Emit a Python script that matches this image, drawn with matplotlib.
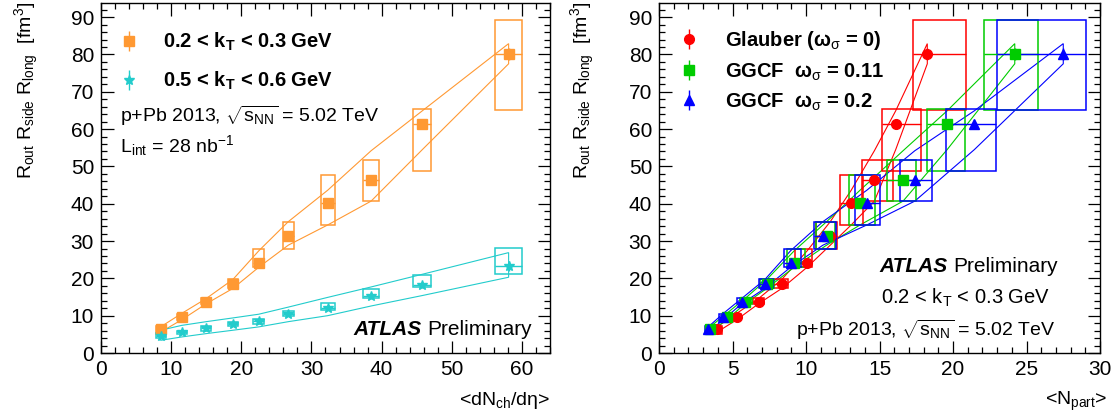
import numpy as np
import matplotlib
matplotlib.use('Agg')
import matplotlib.pyplot as plt
from matplotlib.patches import Rectangle, Polygon

plt.rcParams['font.family'] = ['Liberation Sans', 'DejaVu Sans']
plt.rcParams['mathtext.fontset'] = 'custom'
plt.rcParams['mathtext.rm'] = 'Liberation Sans'
plt.rcParams['mathtext.it'] = 'Liberation Sans:italic'
plt.rcParams['mathtext.bf'] = 'Liberation Sans:bold'

# ---- left panel data: volume vs <dNch/deta>
dndeta = [8.5, 11.5, 15.0, 18.8, 22.5, 26.7, 32.3, 38.5, 45.8, 58.1]
dndeta_sys = [0.7, 0.7, 0.7, 0.75, 0.8, 0.8, 1.0, 1.15, 1.3, 1.9]

vol_kt1 = [6.3, 9.6, 13.8, 18.5, 24.2, 31.3, 40.2, 46.3, 61.3, 80.1]
vol_kt1_stat = [0.3, 0.3, 0.3, 0.4, 0.5, 0.6, 0.8, 1.0, 1.2, 1.5]
vol_kt1_sysdn = [5.0, 8.8, 13.0, 17.3, 23.0, 27.8, 34.3, 40.7, 48.7, 65.1]
vol_kt1_sysup = [7.3, 10.5, 14.8, 19.9, 27.8, 35.2, 47.7, 51.6, 65.3, 89.2]
band_kt1_up = [7.0, 10.6, 14.6, 19.7, 27.4, 35.2, 43.6, 54.2, 64.9, 82.9]
band_kt1_dn = [5.6, 8.9, 13.2, 17.3, 23.0, 28.9, 34.3, 40.7, 54.5, 77.5]

vol_kt2 = [4.6, 5.5, 6.6, 7.7, 8.5, 10.4, 12.1, 15.2, 18.2, 23.3]
vol_kt2_stat = [0.4, 0.4, 0.4, 0.4, 0.5, 0.5, 0.6, 0.7, 0.9, 1.3]
vol_kt2_sysdn = [4.0, 5.0, 6.0, 7.2, 7.8, 9.8, 11.4, 14.7, 17.6, 21.3]
vol_kt2_sysup = [5.3, 6.0, 7.2, 8.3, 9.1, 11.2, 13.3, 17.2, 20.9, 28.2]
band_kt2_up = [6.1, 7.4, 8.4, 9.4, 10.4, 12.3, 14.9, 17.7, 21.1, 26.9]
band_kt2_dn = [3.4, 4.3, 5.2, 6.1, 7.0, 8.4, 10.0, 12.6, 15.4, 20.3]

# ---- right panel data: same volumes vs <Npart> for three models
npart_glauber = [3.95, 5.28, 6.77, 8.35, 10.08, 11.65, 13.07, 14.65, 16.1, 18.25]
glauber_lo = [3.58, 4.94, 6.42, 7.78, 9.25, 10.7, 12.3, 13.8, 15.2, 17.26]
glauber_hi = [4.26, 5.58, 7.14, 8.75, 10.43, 12.1, 13.9, 15.9, 17.8, 20.88]
npart_ggcf11 = [3.47, 4.6, 5.85, 7.33, 9.2, 11.4, 13.67, 16.6, 19.6, 24.2]
ggcf11_lo = [3.2, 4.3, 5.5, 6.9, 8.7, 10.7, 12.9, 15.5, 18.2, 22.1]
ggcf11_hi = [3.8, 5.0, 6.3, 7.8, 9.9, 12.0, 14.7, 17.5, 20.8, 25.8]
npart_ggcf20 = [3.35, 4.37, 5.62, 7.2, 8.95, 11.15, 14.13, 17.4, 21.45, 27.5]
ggcf20_lo = [3.1, 4.1, 5.33, 6.8, 8.5, 10.57, 13.33, 16.4, 19.5, 23.0]
ggcf20_hi = [3.7, 4.9, 6.12, 7.78, 9.66, 12.04, 15.03, 18.6, 22.9, 29.05]

orange = '#FF9933'
cyan = '#22CCCC'


def draw_series(ax, x, xlo, xhi, y, ystat, ydn, yup, bup, bdn, col, marker, ms, label):
    x = np.array(x); xlo = np.array(xlo); xhi = np.array(xhi)
    # band as closed outline
    pts = list(zip(x, bup)) + list(zip(x[::-1], bdn[::-1]))
    ax.add_patch(Polygon(pts, closed=True, fill=False, ec=col, lw=0.8, zorder=2))
    # systematic boxes
    for i in range(len(x)):
        ax.add_patch(Rectangle((xlo[i], ydn[i]), xhi[i] - xlo[i], yup[i] - ydn[i],
                               fill=False, ec=col, lw=1.1, zorder=3))
    ax.errorbar(x, y, xerr=[x - xlo, xhi - x], fmt='none', ecolor=col, elinewidth=1.0, zorder=4)
    h = ax.errorbar(x, y, yerr=ystat, fmt=marker, color=col, ms=ms, mec=col,
                    elinewidth=1.0, capsize=0, zorder=5, label=label)
    return h


def style(ax, xmax, xmaj, xmin):
    ax.set_xlim(0, xmax)
    ax.set_ylim(0, 93.75)
    ax.set_xticks(np.arange(0, xmax + 0.01, xmaj))
    ax.set_xticks(np.arange(0, xmax + 0.01, xmin), minor=True)
    ax.set_yticks(np.arange(0, 91, 10))
    ax.set_yticks(np.arange(0, 93, 2), minor=True)
    ax.tick_params(which='both', direction='in', top=True, right=True, labelsize=15, width=0.9)
    ax.tick_params(which='major', length=9, pad=5)
    ax.tick_params(which='minor', length=4.5)
    for s in ax.spines.values():
        s.set_linewidth(1.0)


fig = plt.figure(figsize=(11.17, 4.19), dpi=100)
axL = fig.add_axes([0.0904, 0.1575, 0.402, 0.835])
axR = fig.add_axes([0.590, 0.1575, 0.3948, 0.835])

sqrt_s = r'p+Pb 2013, $\sqrt{\mathrm{s}_{\rm NN}}$ = 5.02 TeV'

x = np.array(dndeta); sx = np.array(dndeta_sys)
h1 = draw_series(axL, x, x - sx, x + sx, vol_kt1, vol_kt1_stat, vol_kt1_sysdn, vol_kt1_sysup,
                 band_kt1_up, band_kt1_dn, orange, 's', 7.5, r'0.2 < k$_{\mathbf{T}}$ < 0.3 GeV')
h2 = draw_series(axL, x, x - sx, x + sx, vol_kt2, vol_kt2_stat, vol_kt2_sysdn, vol_kt2_sysup,
                 band_kt2_up, band_kt2_dn, cyan, '*', 7, r'0.5 < k$_{\mathbf{T}}$ < 0.6 GeV')
style(axL, 64, 10, 2)
axL.legend(handles=[h1, h2], loc='upper left', bbox_to_anchor=(0.04, 0.92), borderaxespad=0,
           borderpad=0, frameon=False, handlelength=1.0, handletextpad=1.2, labelspacing=0.82,
           prop={'weight': 'bold', 'size': 14.5})
axL.text(0.042, 0.66, sqrt_s, transform=axL.transAxes, fontsize=14, va='baseline')
axL.text(0.042, 0.574, r'L$_{\rm int}$ = 28 nb$^{-1}$', transform=axL.transAxes,
         fontsize=14, va='baseline')
pl = axL.text(0.96, 0.051, 'Preliminary', transform=axL.transAxes, fontsize=15,
              ha='right', va='baseline')
axL.annotate('ATLAS ', xy=(0, 0), xycoords=pl, ha='right', va='bottom', fontsize=15,
             fontweight='bold', fontstyle='italic')

models = [(npart_glauber, glauber_lo, glauber_hi, '#FF0000', 'o', 7, 'Glauber (ω$_{\\rm σ}$ = 0)'),
          (npart_ggcf11, ggcf11_lo, ggcf11_hi, '#00CC00', 's', 6.5, 'GGCF  ω$_{\\rm σ}$ = 0.11'),
          (npart_ggcf20, ggcf20_lo, ggcf20_hi, '#0000FF', '^', 7, 'GGCF  ω$_{\\rm σ}$ = 0.2')]
hs = []
for xs, lo, hi, col, mk, ms, lab in models:
    hs.append(draw_series(axR, xs, lo, hi, vol_kt1, vol_kt1_stat, vol_kt1_sysdn, vol_kt1_sysup,
                          band_kt1_up, band_kt1_dn, col, mk, ms, lab))
style(axR, 30, 5, 1)
axR.legend(handles=hs, loc='upper left', bbox_to_anchor=(0.045, 0.925), borderaxespad=0,
           borderpad=0, frameon=False, handlelength=1.0, handletextpad=1.3, labelspacing=0.44,
           prop={'weight': 'bold', 'size': 14.5})
pr = axR.text(0.905, 0.232, 'Preliminary', transform=axR.transAxes, fontsize=15,
              ha='right', va='baseline')
axR.annotate('ATLAS ', xy=(0, 0), xycoords=pr, ha='right', va='bottom', fontsize=15,
             fontweight='bold', fontstyle='italic')
axR.text(0.503, 0.14, r'0.2 < k$_{\rm T}$ < 0.3 GeV', transform=axR.transAxes,
         fontsize=14.5, va='baseline')
axR.text(0.31, 0.049, sqrt_s, transform=axR.transAxes, fontsize=14, va='baseline')

ylab = r'R$_{\rm out}$ R$_{\rm side}$ R$_{\rm long}$  [fm$^{3}$]'
fig.text(27 / 1117, 0.995, ylab, rotation=90, ha='center', va='top', fontsize=14)
fig.text(583 / 1117, 0.995, ylab, rotation=90, ha='center', va='top', fontsize=14)
fig.text(550 / 1117, 1 - 405 / 419, '<dN$_{\\rm ch}$/dη>', ha='right', va='baseline', fontsize=14)
fig.text(1107 / 1117, 1 - 405 / 419, r'<N$_{\rm part}$>', ha='right', va='baseline', fontsize=14)

fig.savefig('out.png', dpi=100)
